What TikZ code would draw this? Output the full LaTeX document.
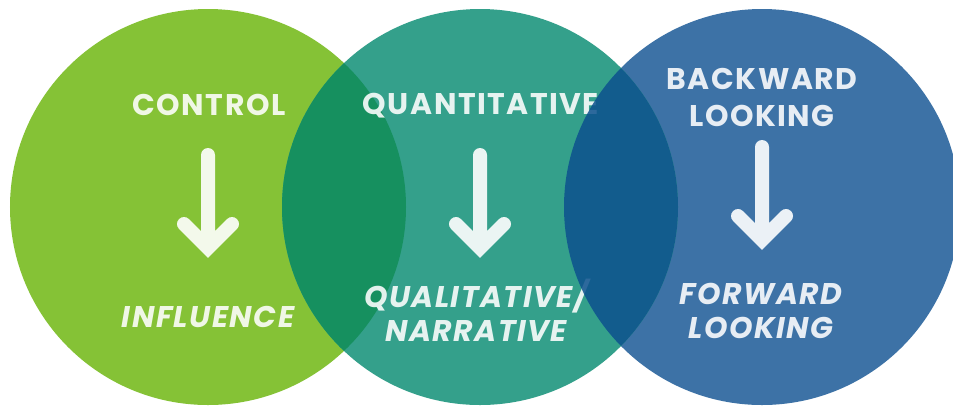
\documentclass[tikz,border=0pt]{standalone}
\usepackage{fontspec}
\setmainfont{Poppins}
\newfontfamily\wordfont{Poppins}[LetterSpace=5]
\usetikzlibrary{positioning}
\definecolor{leafgreen}{HTML}{85C236}
\definecolor{seateal}{HTML}{34A08B}
\definecolor{deepgreen}{HTML}{16905F}
\definecolor{steelblue}{HTML}{3D72A6}
\definecolor{deepblue}{HTML}{0D518E}
\tikzset{
    %Define style for circles
    bubble/.style={
           circle,
           minimum size=396bp,
           inner sep=0pt},
    %Define style for upper words
    upper/.style={
           text=white,
           text opacity=0.88,
           align=center,
           anchor=base,
           font=\wordfont\bfseries\fontsize{30}{37}\selectfont},
    %Define style for lower words
    lower/.style={
           upper,
           font=\wordfont\bfseries\itshape\fontsize{30}{34}\selectfont},
    % Define arrow style
    pil/.style={
           draw=white,
           draw opacity=0.9,
           line width=14bp,
           line cap=round,
           line join=miter}
}
\begin{document}
\begin{tikzpicture}[x=1bp,y=-1bp]
  \useasboundingbox[fill=white] (0,0) rectangle (953,406);
  % circles, blue one first
  \node[bubble,fill=steelblue] (lookc) at (762,207) {};
  \node[bubble,fill=leafgreen] (ctrlc) at (208,207) {};
  \node[bubble,fill=seateal] (quantc) at (480,207) {};
  \begin{scope}
    \clip (ctrlc.center) circle (198);
    \fill[deepgreen] (quantc.center) circle (198);
  \end{scope}
  % words (base is the last line)
  \node[upper] (control) at (209,115) {CONTROL};
  \node[lower] (influence) at (208,327) {INFLUENCE};
  \node[upper] (quant) at (481,114) {QUANTITATIVE};
  \node[lower] (qual) at (476,341) {QUALITATIVE/\\NARRATIVE};
  \node[upper] (backward) at (762,126) {BACKWARD\\LOOKING};
  \node[lower] (forward) at (761,338) {FORWARD\\LOOKING};
  % arrows
  \foreach \name/\x/\top/\tip in {ctrl/208/155/248,quant/480/155/248,look/762/147/240}{
    \coordinate (\name-top) at (\x,\top);
    \coordinate (\name-tip) at (\x,\tip);
    \draw[pil] (\name-top) -- (\name-tip)
      ([shift={(-24,-24)}]\name-tip) -- (\name-tip) -- ([shift={(24,-24)}]\name-tip);
  }
  % overlap of teal and blue, laid over the words
  \begin{scope}
    \clip (quantc.center) circle (198);
    \fill[deepblue,opacity=0.85] (lookc.center) circle (198);
  \end{scope}
\end{tikzpicture}
\end{document}
